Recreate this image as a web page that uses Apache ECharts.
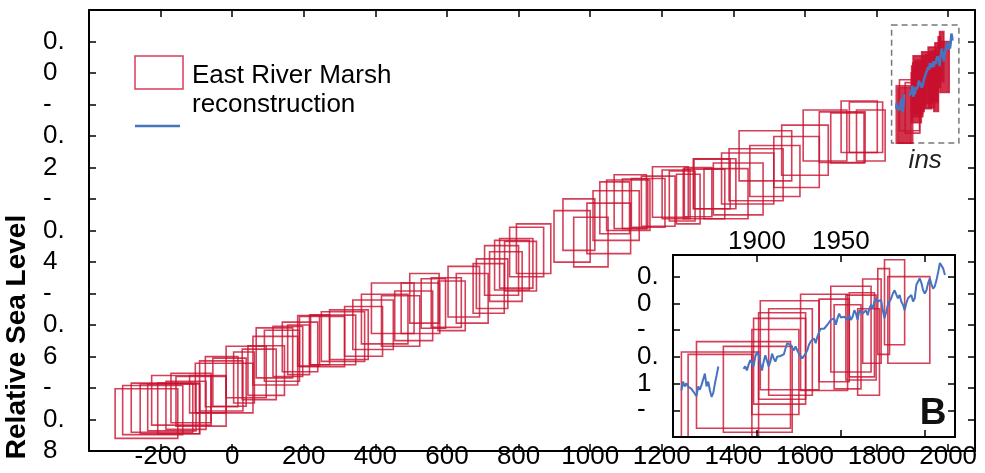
<!DOCTYPE html>
<html><head><meta charset="utf-8">
<script src="https://cdn.jsdelivr.net/npm/echarts@6/dist/echarts.min.js"></script>
<style>html,body{margin:0;padding:0;background:#fff}#c{width:985px;height:473px}</style>
</head><body><div id="c"></div>
<script>
const FONT = "'Liberation Sans', Arial, sans-serif";

// tick labels
const xTickLabels = [-200, 0, 200, 400, 600, 800, 1000, 1200, 1400, 1600, 1800, 2000];
const yTickLabels = ['0.0', '-0.2', '-0.4', '-0.6', '-0.8'];
const insetXTickLabels = [1900, 1950];
const insetYTickLabels = ['0.0', '-0.1', '-0.2'];

// East River Marsh reconstruction: [age min, age max, RSL min, RSL max]
const eastRiverBoxes = [
  [-327, -152, -0.840, -0.735], [-306, -138, -0.832, -0.728], [-282, -110, -0.827, -0.723],
  [-257, -91, -0.830, -0.725], [-236, -101, -0.824, -0.725], [-225, -59, -0.812, -0.707],
  [-208, -91, -0.830, -0.723], [-185, -73, -0.821, -0.719], [-171, -59, -0.807, -0.702],
  [-157, -17, -0.814, -0.709], [-119, -17, -0.786, -0.707], [-103, 58, -0.786, -0.681],
  [-91, 30, -0.782, -0.676], [-75, 16, -0.773, -0.667], [-54, 39, -0.772, -0.670],
  [-17, 95, -0.754, -0.645], [4, 62, -0.765, -0.657], [28, 123, -0.758, -0.651],
  [44, 146, -0.749, -0.644], [58, 183, -0.727, -0.624], [67, 169, -0.712, -0.606],
  [90, 188, -0.719, -0.611], [114, 197, -0.709, -0.603], [140, 239, -0.699, -0.594],
  [155, 216, -0.705, -0.600], [183, 244, -0.687, -0.580], [219, 272, -0.684, -0.579],
  [188, 314, -0.688, -0.582], [216, 345, -0.684, -0.579], [249, 370, -0.677, -0.572],
  [272, 380, -0.673, -0.568], [314, 420, -0.666, -0.561], [337, 450, -0.652, -0.547],
  [361, 491, -0.640, -0.535], [389, 508, -0.618, -0.511], [417, 524, -0.645, -0.538],
  [454, 560, -0.633, -0.528], [472, 580, -0.618, -0.511], [496, 578, -0.596, -0.491],
  [528, 596, -0.607, -0.502], [556, 640, -0.605, -0.500], [575, 651, -0.612, -0.507],
  [603, 691, -0.583, -0.476], [626, 715, -0.596, -0.491], [673, 760, -0.575, -0.470],
  [682, 770, -0.565, -0.460], [705, 800, -0.537, -0.432], [719, 810, -0.550, -0.445],
  [733, 830, -0.526, -0.421], [747, 840, -0.522, -0.417], [761, 850, -0.528, -0.423],
  [775, 870, -0.498, -0.393], [794, 890, -0.491, -0.386], [899, 1000, -0.467, -0.358],
  [924, 1013, -0.442, -0.333], [954, 1050, -0.477, -0.372], [991, 1113, -0.449, -0.342],
  [1008, 1137, -0.421, -0.316], [1027, 1110, -0.407, -0.297], [1046, 1167, -0.400, -0.293],
  [1067, 1157, -0.396, -0.282], [1090, 1161, -0.396, -0.291], [1115, 1209, -0.393, -0.290],
  [1143, 1237, -0.391, -0.285], [1174, 1274, -0.372, -0.265], [1201, 1279, -0.375, -0.272],
  [1221, 1293, -0.380, -0.274], [1241, 1307, -0.386, -0.281], [1263, 1340, -0.371, -0.267],
  [1290, 1391, -0.354, -0.249], [1260, 1376, -0.375, -0.270], [1288, 1407, -0.354, -0.248],
  [1318, 1441, -0.375, -0.269], [1344, 1483, -0.367, -0.257], [1367, 1513, -0.344, -0.236],
  [1388, 1539, -0.337, -0.227], [1416, 1563, -0.295, -0.189], [1446, 1586, -0.328, -0.220],
  [1513, 1640, -0.309, -0.201], [1535, 1665, -0.283, -0.177], [1595, 1717, -0.253, -0.145],
  [1640, 1768, -0.256, -0.149], [1672, 1765, -0.257, -0.151], [1701, 1802, -0.235, -0.126],
  [1724, 1817, -0.235, -0.128], [1744, 1824, -0.253, -0.145],
  [1855, 1901, -0.215, -0.094], [1859, 1897, -0.215, -0.097], [1864, 1920, -0.189, -0.081],
  [1880, 1921, -0.194, -0.087], [1897, 1925, -0.172, -0.066], [1898, 1929, -0.159, -0.052],
  [1901, 1929, -0.153, -0.045], [1902, 1937, -0.141, -0.030], [1907, 1933, -0.148, -0.040],
  [1926, 1954, -0.142, -0.022], [1937, 1955, -0.131, -0.028], [1944, 1968, -0.119, -0.012],
  [1946, 1962, -0.140, -0.035], [1953, 1971, -0.129, -0.023], [1955, 1970, -0.125, -0.020],
  [1960, 1973, -0.148, -0.040], [1963, 1974, -0.108, -0.003], [1972, 1979, -0.097, 0.010],
  [1976, 1988, -0.085, 0.021], [1978, 2003, -0.108, 0.000]
];

// annual record shown as the blue line (two segments)
const gaugeStart1 = 1855;
const gaugeRsl1 = [-0.142, -0.131, -0.137, -0.133, -0.137, -0.137, -0.140, -0.138, -0.146, -0.149,
  -0.137, -0.141, -0.135, -0.137, -0.121, -0.137, -0.131, -0.142, -0.150, -0.145, -0.133, -0.123, -0.112];
const gaugeStart2 = 1892;
const gaugeRsl2 = [-0.115, -0.112, -0.117, -0.110, -0.104, -0.106, -0.112, -0.100, -0.094, -0.098,
  -0.108, -0.117, -0.106, -0.098, -0.100, -0.112, -0.106, -0.096, -0.102, -0.106,
  -0.100, -0.098, -0.099, -0.097, -0.097, -0.090, -0.083, -0.081, -0.085, -0.087,
  -0.092, -0.087, -0.092, -0.096, -0.098, -0.102, -0.100, -0.096, -0.092, -0.085,
  -0.081, -0.079, -0.077, -0.083, -0.075, -0.069, -0.065, -0.067, -0.065, -0.067,
  -0.060, -0.058, -0.054, -0.056, -0.052, -0.060, -0.052, -0.046, -0.051, -0.052,
  -0.050, -0.051, -0.054, -0.048, -0.054, -0.050, -0.042, -0.046, -0.054, -0.042,
  -0.044, -0.046, -0.046, -0.042, -0.048, -0.040, -0.035, -0.040, -0.031, -0.027,
  -0.031, -0.033, -0.029, -0.042, -0.052, -0.044, -0.035, -0.033, -0.027, -0.021,
  -0.017, -0.015, -0.027, -0.023, -0.031, -0.035, -0.042, -0.033, -0.027, -0.029,
  -0.023, -0.031, -0.027, -0.010, -0.006, -0.002, -0.008, -0.017, -0.021, -0.017,
  -0.008, -0.002, -0.010, -0.015, -0.012, -0.004, 0.006, 0.017, 0.015, 0.010, 0.002];

// inset (panel "ins") extent marked on the main panel
const insetAgeRange = [1842, 2030];
const insetRslRange = [-0.215, 0.035];

const gaugeData = [];
gaugeRsl1.forEach((v, i) => gaugeData.push([gaugeStart1 + i, v]));
gaugeData.push([gaugeStart1 + gaugeRsl1.length + 3, '-']);
gaugeRsl2.forEach((v, i) => gaugeData.push([gaugeStart2 + i, v]));

const RED = 'rgba(200,16,46,0.8)';
const BLUE = '#4674c1';

function stackLabel(lbl, firstOnly) {
  const neg = lbl[0] === '-';
  const s = neg ? lbl.slice(1) : lbl;
  const parts = s.split('.');
  if (firstOnly) return (neg ? '-' : ' ') + '\n \n ';
  return (neg ? '-' : ' ') + '\n' + parts[0] + '.\n' + parts[1];
}

function makeBoxRender(fillNarrow) {
  return function (params, api) {
    const p0 = api.coord([api.value(0), api.value(3)]);
    const p1 = api.coord([api.value(1), api.value(2)]);
    const cs = params.coordSys;
    const r = echarts.graphic.clipRectByRect(
      { x: p0[0], y: p0[1], width: p1[0] - p0[0], height: p1[1] - p0[1] },
      { x: cs.x, y: cs.y, width: cs.width, height: cs.height });
    if (!r) return null;
    const narrow = fillNarrow && r.width < 14;
    return { type: 'rect', shape: r,
      style: { fill: narrow ? 'rgba(200,16,46,0.85)' : 'none', stroke: RED, lineWidth: 1.6 } };
  };
}

const axisLineStyle = { show: true, onZero: false, lineStyle: { color: '#000', width: 2 } };
const tickStyle = { show: true, inside: true, length: 7, lineStyle: { color: '#000', width: 1.5 } };

const chart = echarts.init(document.getElementById('c'), null, { renderer: 'canvas' });
chart.setOption({
  animation: false,
  backgroundColor: '#fff',
  textStyle: { fontFamily: FONT },
  grid: [
    { left: 89, top: 10, right: 10, bottom: 22, containLabel: false, outerBoundsMode: 'none' },
    { left: 673, top: 255, right: 30, bottom: 36, containLabel: false, outerBoundsMode: 'none',
      show: true, backgroundColor: '#fff', borderWidth: 0, z: 3 }
  ],
  xAxis: [
    { type: 'value', gridIndex: 0, min: -400, max: 2075, interval: 200, position: 'bottom',
      axisLine: axisLineStyle, axisTick: tickStyle, splitLine: { show: false },
      axisLabel: { fontSize: 26, color: '#000', fontFamily: FONT, margin: -7,
        formatter: v => xTickLabels.includes(Math.round(v)) ? String(Math.round(v)) : '' } },
    { type: 'value', gridIndex: 0, min: -400, max: 2075, interval: 200, position: 'top',
      axisLine: axisLineStyle, axisTick: tickStyle, splitLine: { show: false }, axisLabel: { show: false } },
    { type: 'value', gridIndex: 1, min: 1850, max: 2018, interval: 50, position: 'bottom', z: 5,
      axisLine: axisLineStyle, axisTick: tickStyle, splitLine: { show: false }, axisLabel: { show: false } },
    { type: 'value', gridIndex: 1, min: 1850, max: 2018, interval: 50, position: 'top', z: 5,
      axisLine: axisLineStyle, axisTick: tickStyle, splitLine: { show: false },
      axisLabel: { fontSize: 26, color: '#000', fontFamily: FONT, margin: 0,
        formatter: v => insetXTickLabels.includes(Math.round(v)) ? String(Math.round(v)) : '' } }
  ],
  yAxis: [
    { type: 'value', gridIndex: 0, min: -13 / 15, max: 1 / 15, interval: 1 / 15, position: 'left',
      axisLine: axisLineStyle, axisTick: tickStyle, splitLine: { show: false },
      axisLabel: { fontSize: 26, color: '#000', fontFamily: FONT, lineHeight: 31.5, align: 'left', margin: 46,
        formatter: v => {
          const k = Math.round(-v * 15);
          if (k < 0 || k % 3 !== 0) return '';
          const lbl = yTickLabels[k / 3];
          return lbl ? stackLabel(lbl, false) : '';
        } } },
    { type: 'value', gridIndex: 0, min: -13 / 15, max: 1 / 15, interval: 1 / 15, position: 'right',
      axisLine: axisLineStyle, axisTick: tickStyle, splitLine: { show: false }, axisLabel: { show: false } },
    { type: 'value', gridIndex: 1, min: -0.2, max: 0.027, interval: 1 / 30, position: 'left', z: 5,
      axisLine: axisLineStyle, axisTick: tickStyle, splitLine: { show: false },
      axisLabel: { fontSize: 26, color: '#000', fontFamily: FONT, lineHeight: 26.7, align: 'left', margin: 36,
        formatter: v => {
          const k = Math.round(-v * 30);
          if (k < 0 || k % 3 !== 0) return '';
          const lbl = insetYTickLabels[k / 3];
          return lbl ? stackLabel(lbl, k / 3 === insetYTickLabels.length - 1) : '';
        } } },
    { type: 'value', gridIndex: 1, min: -0.2, max: 0.027, interval: 1 / 30, position: 'right', z: 5,
      axisLine: axisLineStyle, axisTick: tickStyle, splitLine: { show: false }, axisLabel: { show: false } }
  ],
  series: [
    { type: 'custom', name: 'East River Marsh reconstruction', xAxisIndex: 0, yAxisIndex: 0, z: 2,
      renderItem: makeBoxRender(true), encode: { x: [0, 1], y: [2, 3] }, data: eastRiverBoxes, silent: true },
    { type: 'line', name: 'gauge', xAxisIndex: 0, yAxisIndex: 0, z: 3, data: gaugeData,
      showSymbol: false, connectNulls: false, lineStyle: { color: BLUE, width: 2.5 }, silent: true,
      markArea: { silent: true,
        itemStyle: { color: 'rgba(0,0,0,0)', borderColor: '#777', borderWidth: 1.5, borderType: [6, 4] },
        label: { show: true, position: 'bottom', distance: 4, formatter: 'ins', fontStyle: 'italic',
          fontSize: 26, color: '#222', fontFamily: FONT },
        data: [[{ coord: [insetAgeRange[0], insetRslRange[1]] }, { coord: [insetAgeRange[1], insetRslRange[0]] }]] } },
    { type: 'custom', name: 'East River Marsh (inset)', xAxisIndex: 2, yAxisIndex: 2, z: 4,
      renderItem: makeBoxRender(false), encode: { x: [0, 1], y: [2, 3] }, data: eastRiverBoxes, silent: true },
    { type: 'line', name: 'gauge (inset)', xAxisIndex: 2, yAxisIndex: 2, z: 5, data: gaugeData,
      showSymbol: false, connectNulls: false, lineStyle: { color: BLUE, width: 2 }, silent: true }
  ],
  graphic: [
    { type: 'text', x: 17, y: 337, rotation: Math.PI / 2, z: 100,
      style: { text: 'Relative Sea Level', font: 'bold 28px ' + FONT, fill: '#000', align: 'center', verticalAlign: 'middle' } },
    { type: 'rect', shape: { x: 135, y: 56, width: 48, height: 33 }, z: 100,
      style: { fill: '#fff', stroke: RED, lineWidth: 1.5 } },
    { type: 'text', x: 192, y: 62, z: 100,
      style: { text: 'East River Marsh\nreconstruction', font: '26px ' + FONT, lineHeight: 28.5, fill: '#000' } },
    { type: 'line', shape: { x1: 135, y1: 126, x2: 180, y2: 126 }, z: 100,
      style: { stroke: BLUE, lineWidth: 2.5 } },
    { type: 'text', x: 933, y: 414, z: 100,
      style: { text: 'B', font: 'bold 37px ' + FONT, fill: '#111', align: 'center', verticalAlign: 'middle' } }
  ]
});
</script></body></html>
